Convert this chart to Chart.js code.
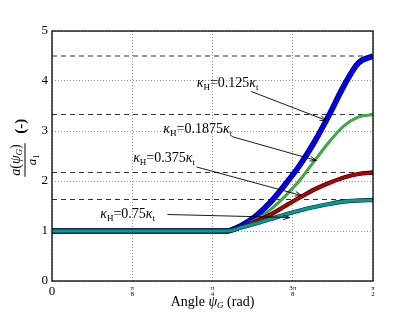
<!DOCTYPE html>
<html lang="en">
<head>
  <meta charset="UTF-8">
  <title>Opening ratio vs angle</title>
  <script src="https://cdn.jsdelivr.net/npm/chart.js"></script>
  <style>
    body {
      margin: 0;
      background: #fff;
    }
    #wrap {
      width: 415px;
      height: 312px;
    }
  </style>
</head>
<body>
  <div id="wrap"><canvas id="canvas"></canvas></div>

  <script>
    // angle psi_G in rad, kink near 0.855 rad then up to pi/2
    const angles = [0, 0.855, 0.927, 0.998, 1.070, 1.141, 1.213, 1.284, 1.356, 1.428, 1.499, 1.5708];
    const ratio0125 = [1.00, 1.00, 1.11, 1.30, 1.58, 1.93, 2.32, 2.78, 3.32, 3.90, 4.36, 4.50];
    const ratio01875 = [1.00, 1.00, 1.09, 1.23, 1.43, 1.70, 2.02, 2.40, 2.78, 3.10, 3.28, 3.33];
    const ratio0375 = [1.00, 1.00, 1.08, 1.19, 1.33, 1.50, 1.67, 1.83, 1.96, 2.07, 2.14, 2.17];
    const ratio075 = [1.00, 1.00, 1.07, 1.15, 1.24, 1.33, 1.41, 1.48, 1.54, 1.59, 1.61, 1.62];
    const limitLevels = [4.5, 3.33, 2.17, 1.63];
    const kappaLabels = ["0.125", "0.1875", "0.375", "0.75"];
    const xTickVals = [0, Math.PI / 8, Math.PI / 4, 3 * Math.PI / 8, Math.PI / 2];
    const xTickLabels = ["0", ["π", "8"], ["π", "4"], ["3π", "8"], ["π", "2"]];
    const yTickVals = [0, 1, 2, 3, 4, 5];

    const SERIF = "'Liberation Serif', 'DejaVu Serif', serif";

    const pts = (ys) => angles.map((a, i) => ({ x: a, y: ys[i] }));

    const curves = [
      { ys: ratio075, color: "#009a9a", edge: "#0b2b2b", w: 3, e: 1.3 },
      { ys: ratio0375, color: "#b30000", edge: "#1a0000", w: 3, e: 1.3 },
      { ys: ratio01875, color: "#3cb43c", edge: "#2a7a2a", w: 2, e: 0.8 },
      { ys: ratio0125, color: "#0000ee", edge: "#00003a", w: 4.5, e: 1.2 }
    ];

    const datasets = [];
    curves.forEach((c, i) => {
      datasets.push({
        data: pts(c.ys), borderColor: c.color, borderWidth: c.w,
        pointRadius: 0, cubicInterpolationMode: "monotone", order: 2 * i
      });
      datasets.push({
        data: pts(c.ys), borderColor: c.edge, borderWidth: c.w + c.e,
        pointRadius: 0, cubicInterpolationMode: "monotone", order: 2 * i + 1
      });
    });
    limitLevels.forEach(v => {
      datasets.push({
        data: [{ x: 0, y: v }, { x: Math.PI / 2, y: v }],
        borderColor: "#333", borderWidth: 1.2, borderDash: [5, 4],
        pointRadius: 0, order: 20
      });
    });

    // annotation text anchor (left, middle) and arrow from/to, in data units
    const annos = [
      { text: [0.708, 3.95], from: [0.975, 3.79], to: [1.343, 3.21] },
      { text: [0.545, 3.03], from: [0.879, 2.89], to: [1.294, 2.41] },
      { text: [0.397, 2.45], from: [0.708, 2.28], to: [1.221, 1.71] },
      { text: [0.236, 1.33], from: [0.565, 1.33], to: [1.163, 1.27] }
    ];

    function drawRich(ctx, parts, x, y, align) {
      const widths = parts.map(p => {
        ctx.font = (p.it ? "italic " : "") + (p.bold ? "bold " : "") + p.size + "px " + SERIF;
        return ctx.measureText(p.t).width;
      });
      const total = widths.reduce((a, b) => a + b, 0);
      let cx = align === "center" ? x - total / 2 : x;
      ctx.textBaseline = "middle";
      ctx.textAlign = "left";
      parts.forEach((p, i) => {
        ctx.font = (p.it ? "italic " : "") + (p.bold ? "bold " : "") + p.size + "px " + SERIF;
        ctx.fillText(p.t, cx, y + (p.sub ? 4 : 0));
        cx += widths[i];
      });
      return total;
    }

    function kappaParts(k) {
      return [
        { t: "κ", it: true, size: 14 },
        { t: "H", size: 9, sub: true },
        { t: "=" + k, size: 14 },
        { t: "κ", it: true, size: 14 },
        { t: "t", size: 9, sub: true }
      ];
    }

    const decorPlugin = {
      id: "decor",
      afterDatasetsDraw(chart) {
        const ctx = chart.ctx;
        const xs = chart.scales.x, ys = chart.scales.y;
        const area = chart.chartArea;
        ctx.save();
        ctx.fillStyle = "#000";
        ctx.strokeStyle = "#000";

        // annotations
        annos.forEach((a, i) => {
          drawRich(ctx, kappaParts(kappaLabels[i]), xs.getPixelForValue(a.text[0]), ys.getPixelForValue(a.text[1]), "left");
          const x1 = xs.getPixelForValue(a.from[0]), y1 = ys.getPixelForValue(a.from[1]);
          const x2 = xs.getPixelForValue(a.to[0]), y2 = ys.getPixelForValue(a.to[1]);
          ctx.lineWidth = 0.9;
          ctx.beginPath();
          ctx.moveTo(x1, y1);
          ctx.lineTo(x2, y2);
          const ang = Math.atan2(y2 - y1, x2 - x1);
          ctx.moveTo(x2 - 7 * Math.cos(ang - 0.35), y2 - 7 * Math.sin(ang - 0.35));
          ctx.lineTo(x2, y2);
          ctx.lineTo(x2 - 7 * Math.cos(ang + 0.35), y2 - 7 * Math.sin(ang + 0.35));
          ctx.stroke();
        });

        // frame
        ctx.lineWidth = 1.3;
        ctx.strokeRect(area.left, area.top, area.right - area.left, area.bottom - area.top);

        // x title
        drawRich(ctx, [
          { t: "Angle ", size: 14 },
          { t: "ψ", it: true, size: 14 },
          { t: "G", it: true, size: 9, sub: true },
          { t: " (rad)", size: 14 }
        ], (area.left + area.right) / 2, 302, "center");

        // y title: fraction a(psi_G)/a_1 and (-)
        ctx.translate(24, 160);
        ctx.rotate(-Math.PI / 2);
        const wNum = drawRich(ctx, [
          { t: "a", it: true, size: 14 },
          { t: "(", size: 14 },
          { t: "ψ", it: true, size: 14 },
          { t: "G", it: true, size: 9, sub: true },
          { t: ")", size: 14 }
        ], 0, -8, "center");
        ctx.lineWidth = 1;
        ctx.beginPath();
        ctx.moveTo(-wNum / 2 - 1, 1);
        ctx.lineTo(wNum / 2 + 1, 1);
        ctx.stroke();
        drawRich(ctx, [
          { t: "a", it: true, size: 13 },
          { t: "1", size: 8, sub: true }
        ], 0, 9, "center");
        drawRich(ctx, [{ t: "(-)", bold: true, size: 15 }], wNum / 2 + 18, -3, "center");
        ctx.restore();
      }
    };

    const gridStyle = {
      color: "#9a9a9a",
      lineWidth: 1,
      drawTicks: false
    };

    window.onload = function () {
      const ctx = document.getElementById("canvas").getContext("2d");
      new Chart(ctx, {
        type: "line",
        data: { datasets: datasets },
        options: {
          responsive: true,
          maintainAspectRatio: false,
          animation: false,
          layout: { padding: { left: 0, right: 42, top: 31, bottom: 0 } },
          plugins: {
            legend: { display: false },
            tooltip: { enabled: false }
          },
          scales: {
            x: {
              type: "linear",
              min: 0,
              max: Math.PI / 2,
              afterBuildTicks: s => { s.ticks = xTickVals.map(v => ({ value: v })); },
              afterFit: s => { s.height = 31; },
              grid: gridStyle,
              border: { display: false, dash: [1, 2] },
              ticks: {
                padding: 4,
                maxRotation: 0,
                color: "#000",
                callback: (v, i) => xTickLabels[i],
                font: c => (c.index === 0 ? { family: SERIF, size: 13, lineHeight: 1 } : { family: SERIF, size: 7, lineHeight: 0.9 })
              }
            },
            y: {
              min: 0,
              max: 5,
              afterBuildTicks: s => { s.ticks = yTickVals.map(v => ({ value: v })); },
              afterFit: s => { s.width = 52; },
              grid: gridStyle,
              border: { display: false, dash: [1, 2] },
              ticks: {
                padding: 4,
                color: "#000",
                font: { family: SERIF, size: 13 }
              }
            }
          }
        },
        plugins: [decorPlugin]
      });
    };
  </script>
</body>
</html>
